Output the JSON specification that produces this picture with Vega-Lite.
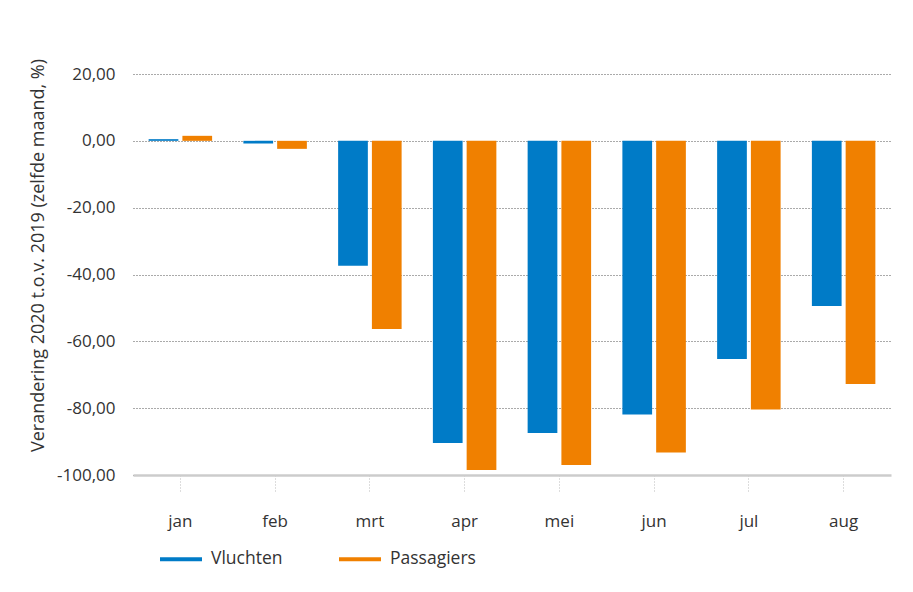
{
  "$schema": "https://vega.github.io/schema/vega-lite/v6.json",
  "autosize": {"type": "none"},
  "padding": {"left": 133, "top": 74, "right": 22, "bottom": 117},
  "width": 758,
  "height": 401,
  "background": "white",
  "config": {
    "locale": {"number": {"decimal": ",", "thousands": ".", "grouping": [3], "currency": ["€", ""], "minus": "-"}},
    "font": "Open Sans",
    "view": {"stroke": null},
    "axis": {"labelFont": "Open Sans", "titleFont": "Open Sans", "labelColor": "#333333", "titleColor": "#333333"},
    "legend": {"labelFont": "Open Sans", "labelColor": "#333333"}
  },
  "data": {
    "values": [
      {"maand": "jan", "reeks": "Vluchten", "waarde": 0.5},
      {"maand": "jan", "reeks": "Passagiers", "waarde": 1.5},
      {"maand": "feb", "reeks": "Vluchten", "waarde": -0.8},
      {"maand": "feb", "reeks": "Passagiers", "waarde": -2.4},
      {"maand": "mrt", "reeks": "Vluchten", "waarde": -37.4},
      {"maand": "mrt", "reeks": "Passagiers", "waarde": -56.3},
      {"maand": "apr", "reeks": "Vluchten", "waarde": -90.4},
      {"maand": "apr", "reeks": "Passagiers", "waarde": -98.5},
      {"maand": "mei", "reeks": "Vluchten", "waarde": -87.4},
      {"maand": "mei", "reeks": "Passagiers", "waarde": -97.0},
      {"maand": "jun", "reeks": "Vluchten", "waarde": -81.9},
      {"maand": "jun", "reeks": "Passagiers", "waarde": -93.3},
      {"maand": "jul", "reeks": "Vluchten", "waarde": -65.3},
      {"maand": "jul", "reeks": "Passagiers", "waarde": -80.4},
      {"maand": "aug", "reeks": "Vluchten", "waarde": -49.4},
      {"maand": "aug", "reeks": "Passagiers", "waarde": -72.8}
    ]
  },
  "mark": {"type": "bar"},
  "encoding": {
    "x": {
      "field": "maand",
      "type": "nominal",
      "sort": ["jan", "feb", "mrt", "apr", "mei", "jun", "jul", "aug"],
      "scale": {"paddingInner": 0.33, "paddingOuter": 0.165},
      "axis": {
        "title": null,
        "labelAngle": 0,
        "labelFontSize": 17,
        "labelPadding": 21,
        "domainColor": "#cccccc",
        "domainWidth": 2.5,
        "tickColor": "#bbbbbb",
        "tickDash": [1, 2],
        "tickSize": 17,
        "tickWidth": 1
      }
    },
    "xOffset": {
      "field": "reeks",
      "type": "nominal",
      "sort": ["Vluchten", "Passagiers"],
      "scale": {"paddingInner": 0.12, "paddingOuter": 0}
    },
    "y": {
      "field": "waarde",
      "type": "quantitative",
      "scale": {"domain": [-100, 20], "nice": false},
      "axis": {
        "title": "Verandering 2020 t.o.v. 2019 (zelfde maand, %)",
        "titleFontSize": 18,
        "titleFontWeight": "normal",
        "titlePadding": 9,
        "titleY": 181,
        "format": ".2f",
        "values": [-100, -80, -60, -40, -20, 0, 20],
        "labelFontSize": 17,
        "labelPadding": 18,
        "domain": false,
        "ticks": false,
        "gridColor": "#555555",
        "gridDash": [1, 2],
        "gridWidth": 1
      }
    },
    "color": {
      "field": "reeks",
      "type": "nominal",
      "sort": ["Vluchten", "Passagiers"],
      "scale": {"domain": ["Vluchten", "Passagiers"], "range": ["#007bc7", "#f08000"]},
      "legend": {
        "title": null,
        "orient": "none",
        "direction": "horizontal",
        "legendX": 27,
        "legendY": 464,
        "symbolType": "M-1,-0.1L1,-0.1L1,0.1L-1,0.1Z",
        "symbolSize": 1764,
        "symbolStrokeWidth": 0,
        "labelFontSize": 17.5,
        "labelOffset": 9,
        "columnPadding": 56
      }
    }
  }
}
